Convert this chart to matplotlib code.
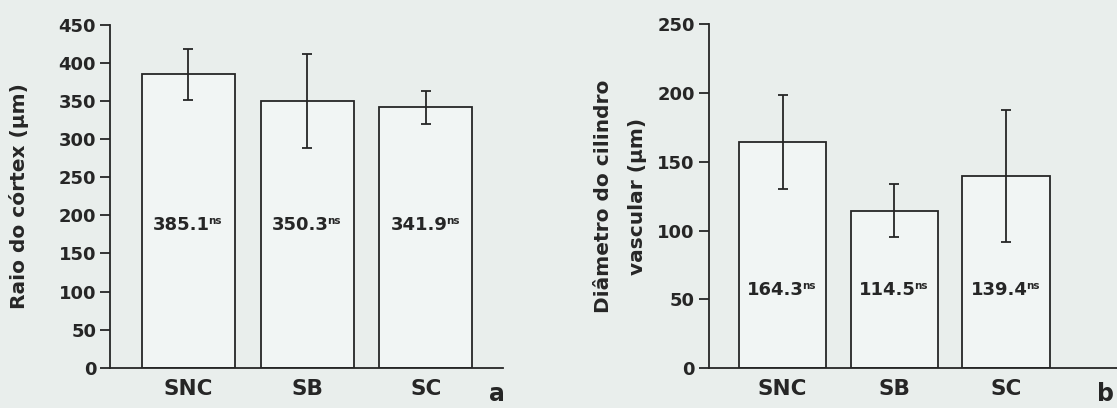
import numpy as np
import matplotlib
matplotlib.use('Agg')
import matplotlib.pyplot as plt

# cortex radius and vascular cylinder diameter per treatment
groups = ['SNC', 'SB', 'SC']
cortex_mean = [385.1, 350.3, 341.9]
cortex_err = [33, 62, 22]
cylinder_mean = [164.3, 114.5, 139.4]
cylinder_err = [34, 19, 48]
signif = ['ns', 'ns', 'ns']

plt.rcParams['font.family'] = 'DejaVu Sans'
plt.rcParams['font.weight'] = 'bold'
plt.rcParams['axes.labelweight'] = 'bold'

ink = '#262626'
paper = '#e9eeec'
barface = '#f1f5f4'

fig = plt.figure(figsize=(11.17, 4.08), dpi=100)
fig.patch.set_facecolor(paper)


def panel(rect, means, errs, ymax, ystep, xlim, label_y, ylabel, label_x, tag, tag_x):
	ax = fig.add_axes(rect)
	ax.set_facecolor('none')
	x = np.arange(len(groups))
	ax.bar(x, means, width=0.785, color=barface, edgecolor=ink, linewidth=1.3)
	ax.errorbar(x, means, yerr=errs, fmt='none', ecolor=ink, elinewidth=1.3,
				capsize=3.6, capthick=1.3)
	# value printed inside each bar, significance as a small superscript
	for xi, m, s in zip(x, means, signif):
		t = ax.annotate('%.1f' % m, (xi, label_y), xytext=(-5, 0),
						textcoords='offset points', ha='center', va='center',
						fontsize=13, color=ink)
		ax.annotate(s, (1, 1), xycoords=t, xytext=(-1.2, -0.5),
					textcoords='offset points', ha='left', va='top',
					fontsize=7.5, color=ink)
	ax.set_xlim(*xlim)
	ax.set_ylim(0, ymax)
	ax.set_yticks(np.arange(0, ymax + 1, ystep))
	ax.set_xticks(x)
	ax.set_xticklabels(groups, fontsize=15.5)
	ax.tick_params(axis='x', length=0, pad=8, colors=ink)
	ax.tick_params(axis='y', length=7, width=1.3, labelsize=13, colors=ink, pad=3)
	for side in ['top', 'right']:
		ax.spines[side].set_visible(False)
	for side in ['left', 'bottom']:
		ax.spines[side].set_linewidth(1.3)
		ax.spines[side].set_color(ink)
	ax.set_ylabel(ylabel, fontsize=14.5, color=ink, linespacing=2.0)
	ax.yaxis.set_label_coords(label_x, 0.5)
	fig.text(tag_x, 0.005, tag, fontsize=17, color=ink, ha='left', va='bottom')
	return ax


panel([0.0985, 0.0988, 0.3518, 0.840], cortex_mean, cortex_err, 450, 50,
	  (-0.66, 2.65), 188, 'Raio do córtex (μm)', -0.205, 'a', 0.438)
panel([0.6345, 0.0973, 0.3655, 0.844], cylinder_mean, cylinder_err, 250, 50,
	  (-0.66, 2.99), 57, 'Diâmetro do cilindro\nvascular (μm)', -0.152, 'b', 0.982)

fig.savefig('out.png', dpi=100, facecolor=paper)
